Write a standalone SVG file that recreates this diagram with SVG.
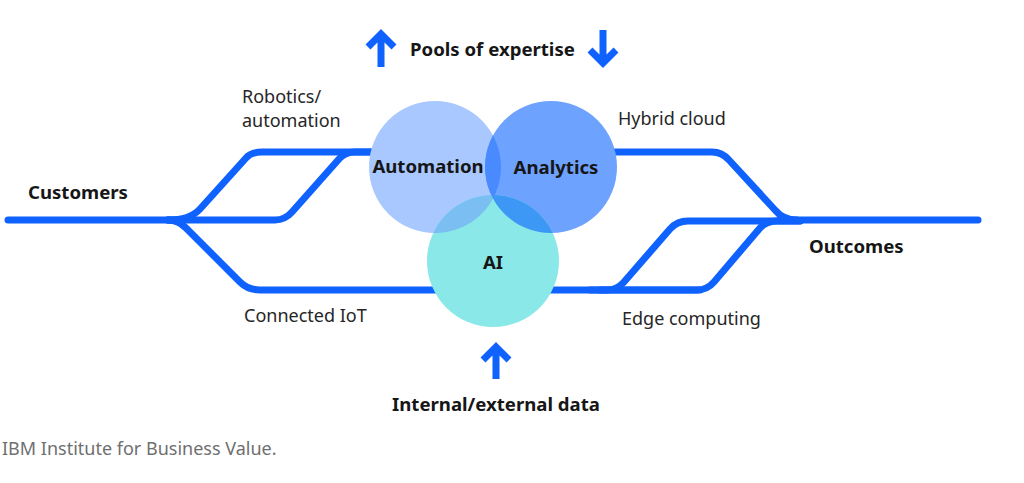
<svg xmlns="http://www.w3.org/2000/svg" width="1024" height="483" viewBox="0 0 1024 483">
<defs>
<style>
.track{fill:none;stroke:#0f62fe;stroke-width:7;stroke-linecap:round;stroke-linejoin:round}
.arrow{fill:none;stroke:#0f62fe;stroke-width:7;stroke-linecap:butt;stroke-linejoin:miter}
.b{font-family:"Noto Sans","Liberation Sans",sans-serif;font-weight:700;font-size:18.6px;fill:#161616}
.n{font-family:"Noto Sans","Liberation Sans",sans-serif;font-weight:400;font-size:18px;fill:#262626}
.f{font-family:"Noto Sans","Liberation Sans",sans-serif;font-weight:400;font-size:18px;fill:#6f6f6f}
</style>
<clipPath id="cAut"><circle cx="435" cy="167" r="66"/></clipPath>
<clipPath id="cAna"><circle cx="551" cy="167" r="66"/></clipPath>
</defs>
<rect width="1024" height="483" fill="#ffffff"/>
<g id="connectors">
<path class="track" d="M8 220 H180"/>
<path class="track" d="M168 220 Q190 220 200 209 L246 158 Q251 152 262 152 H380"/>
<path class="track" d="M168 220 H275 Q285 220 292 212 L339 159 Q345 152 355 152 H380"/>
<path class="track" d="M168 220 Q178 220 186 228 L240 282 Q248 290 260 290 H700"/>
<path class="track" d="M600 152 H712 Q722 152 729 160 L775 210 Q783 220 797 220"/>
<path class="track" d="M780 220 H978"/>
<path class="track" d="M600 290 H697 Q707 290 714 282 L760 228 Q766 221 778 221 H800"/>
<path class="track" d="M590 290 H607 Q617 290 624 282 L670 229 Q677 221 688 221 H800"/>
</g>
<g id="automation">
<circle cx="435" cy="167" r="66" fill="#a8c8ff"/>
<text class="b" x="428" y="173" text-anchor="middle">Automation</text>
</g>
<g id="analytics">
<circle cx="551" cy="167" r="66" fill="#6ea2ff"/>
<circle cx="551" cy="167" r="66" fill="#4a8aff" clip-path="url(#cAut)"/>
<text class="b" x="556" y="174" text-anchor="middle">Analytics</text>
</g>
<g id="ai">
<circle cx="493" cy="261" r="66" fill="#8ae8e8"/>
<circle cx="493" cy="261" r="66" fill="#7abef2" clip-path="url(#cAut)"/>
<circle cx="493" cy="261" r="66" fill="#3d97f5" clip-path="url(#cAna)"/>
<text class="b" x="493" y="269" text-anchor="middle">AI</text>
</g>
<g id="customers"><text class="b" x="28" y="199">Customers</text></g>
<g id="outcomes"><text class="b" x="809" y="253">Outcomes</text></g>
<g id="pools">
<path class="arrow" d="M381 67 V33 M368 47 L381 34 L394 47"/>
<text class="b" x="410" y="56">Pools of expertise</text>
<path class="arrow" d="M603 30 V64 M590 50 L603 63 L616 50"/>
</g>
<g id="data">
<path class="arrow" d="M496 379 V346 M483 360 L496 347 L509 360"/>
<text class="b" x="496" y="411" text-anchor="middle">Internal/external data</text>
</g>
<g id="robotics"><text class="n" x="242" y="103">Robotics/</text><text class="n" x="242" y="127">automation</text></g>
<g id="hybrid"><text class="n" x="618" y="125">Hybrid cloud</text></g>
<g id="iot"><text class="n" x="244" y="322">Connected IoT</text></g>
<g id="edge"><text class="n" x="622" y="325">Edge computing</text></g>
<text class="f" x="2" y="455">IBM Institute for Business Value.</text>
</svg>
